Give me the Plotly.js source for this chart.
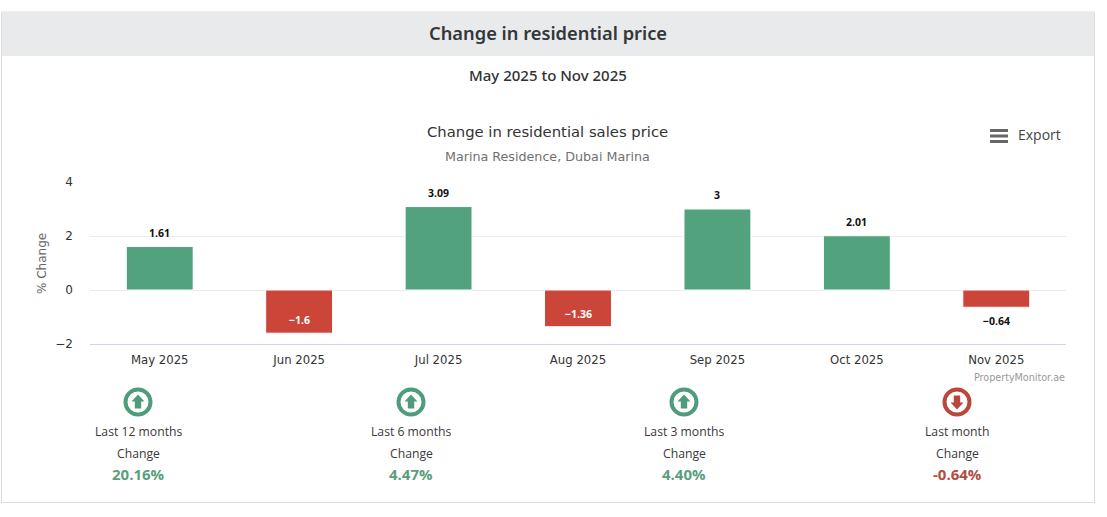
<!DOCTYPE html>
<html>
<head>
<meta charset="utf-8">
<script src="https://cdn.plot.ly/plotly-3.0.1.min.js"></script>
<style>html,body{margin:0;padding:0;background:#fff;overflow:hidden}#chart{width:1107px;height:517px}</style>
</head>
<body>
<div id="chart"></div>
<script>
const months = ['May 2025','Jun 2025','Jul 2025','Aug 2025','Sep 2025','Oct 2025','Nov 2025'];
const changes = [1.61,-1.6,3.09,-1.36,3,2.01,-0.64];
const labelInside = [false,true,false,true,false,false,false];
const yTicks = [-2,0,2,4];
const statPeriods = ['Last 12 months','Last 6 months','Last 3 months','Last month'];
const statValues = ['20.16%','4.47%','4.40%','-0.64%'];
const statUp = [true,true,true,false];

const W = 1107, H = 517;
const GREEN = '#52a27d', RED = '#cc4539', TXTGREEN = '#5a9e80', TXTRED = '#b14d43', ICONRED = '#b9473c';
const SANS = '"Noto Sans", sans-serif', CHART = '"DejaVu Sans", sans-serif', OPEN = '"Open Sans", sans-serif';
const px = x => x / W, py = y => 1 - y / H;
const pathOf = pts => 'M' + pts.map(p => px(p[0]) + ',' + py(p[1])).join(' L') + ' Z';

const ann = (x, y, text, size, color, family, weight, extra) => Object.assign({
  xref:'paper', yref:'paper', x:px(x), y:py(y), text, showarrow:false,
  xanchor:'center', yanchor:'middle',
  font:{size, color, family, weight: weight || 400}
}, extra || {});

const annotations = [
  ann(548, 33, 'Change in residential price', 18.3, '#33373a', SANS, 600),
  ann(548, 75.5, 'May 2025 to Nov 2025', 15, '#2f3235', SANS, 500),
  ann(547, 132, 'Change in residential sales price', 14.8, '#333333', CHART, 400),
  ann(547, 156, 'Marina Residence, Dubai Marina', 12.7, '#707070', CHART, 400),
  ann(1039, 135, 'Export', 14, '#444444', OPEN, 400),
  ann(1067, 377, 'PropertyMonitor.ae', 9.6, '#999999', CHART, 400, {xanchor:'right'}),
  ann(42, 264, '% Change', 12, '#666666', CHART, 400, {textangle:-90})
];

changes.forEach((v, i) => {
  const shift = labelInside[i] ? 13 : (v >= 0 ? 14 : -14);
  annotations.push({
    xref:'x', yref:'y', x:months[i], y:v, yshift:shift,
    text:String(v).replace('-', '\u2212'), showarrow:false,
    xanchor:'center', yanchor:'middle',
    font:{family:OPEN, size:10.5, weight:700, color:labelInside[i] ? '#ffffff' : '#111111'}
  });
});

const shapes = [
  {type:'rect', xref:'paper', yref:'paper', x0:px(1.5), x1:px(1094.5), y0:py(12), y1:py(502.5),
   line:{color:'#dcdcdc', width:1}, fillcolor:'#ffffff', layer:'below'},
  {type:'rect', xref:'paper', yref:'paper', x0:px(2), x1:px(1094), y0:py(12), y1:py(56),
   line:{width:0}, fillcolor:'#e9eaeb', layer:'below'}
];
[130.5, 136, 141.5].forEach(y => shapes.push({
  type:'line', xref:'paper', yref:'paper', x0:px(990), x1:px(1008), y0:py(y), y1:py(y),
  line:{color:'#666666', width:3}
}));

const statX = [138, 411, 684, 957];
statPeriods.forEach((p, i) => {
  const c = statX[i], up = statUp[i], col = up ? '#4f9c7b' : ICONRED, cy = 402;
  annotations.push(ann(c, 431.5, p, 12.2, '#3a3a3a', OPEN, 400));
  annotations.push(ann(c, 453.5, 'Change', 12.2, '#3a3a3a', OPEN, 400));
  annotations.push(ann(c, 474, statValues[i], 15, up ? TXTGREEN : TXTRED, OPEN, 700));
  shapes.push({type:'circle', xref:'paper', yref:'paper',
    x0:px(c-12.5), x1:px(c+12.5), y0:py(cy-12.5), y1:py(cy+12.5),
    line:{color:col, width:4}, fillcolor:'#ffffff'});
  const s = up ? 1 : -1;
  shapes.push({type:'path', xref:'paper', yref:'paper', line:{width:0}, fillcolor:col, path:pathOf([
    [c, cy-7.5*s],[c+6.5, cy-0.5*s],[c+3.2, cy-0.5*s],[c+3.2, cy+6.5*s],
    [c-3.2, cy+6.5*s],[c-3.2, cy-0.5*s],[c-6.5, cy-0.5*s]
  ])});
});

const trace = {
  type:'bar', x:months, y:changes,
  marker:{color:changes.map(v => v >= 0 ? GREEN : RED), line:{color:'#ffffff', width:1}},
  width:0.48,
  textposition:'none',
  hoverinfo:'x+y'
};

const layout = {
  width:W, height:H, margin:{l:0,r:0,t:0,b:0,pad:0},
  paper_bgcolor:'#ffffff', plot_bgcolor:'rgba(0,0,0,0)',
  showlegend:false, font:{family:CHART},
  xaxis:{
    domain:[px(90), px(1066)], type:'category', anchor:'y', automargin:false,
    showgrid:false, zeroline:false, showline:true, linecolor:'#ccd6eb', linewidth:1,
    ticks:'', ticklabelstandoff:5, tickfont:{size:11.7, color:'#333333', family:CHART}
  },
  yaxis:{
    domain:[py(344), py(182)], range:[-2,4], anchor:'x', automargin:false,
    tickmode:'array', tickvals:yTicks, ticktext:yTicks.map(v => String(v).replace('-', '\u2212')),
    gridcolor:'#e9ecef', gridwidth:1, zeroline:false, showline:false,
    ticks:'', ticklabelstandoff:16, tickfont:{size:12, color:'#333333', family:CHART}
  },
  annotations, shapes
};
Plotly.newPlot('chart', [trace], layout, {displayModeBar:false, responsive:false});
</script>
</body>
</html>
